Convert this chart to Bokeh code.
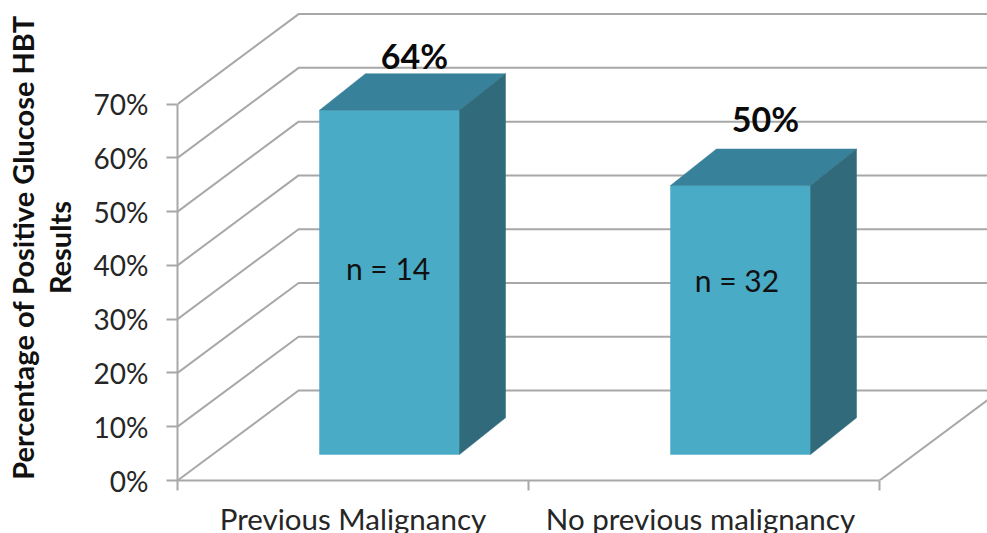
from bokeh.embed import file_html
from bokeh.models import FixedTicker, Label
from bokeh.plotting import figure
from bokeh.resources import INLINE

# Chart values
categories = ["Previous Malignancy", "No previous malignancy"]
positive_pct = [64, 50]
sample_sizes = [14, 32]
pct_ticks = [0, 10, 20, 30, 40, 50, 60, 70]

# Oblique projection of the 3D chart box, in axis units
BOX_DX, BOX_DY = 0.345, 16.74
BAR_DX, BAR_DY = 0.131, 6.8
BAR_WIDTH = 0.399
BAR_SHIFT = 0.104      # bars stand part-way into the box floor
BAR_BASE = 4.85

FRONT, TOP, SIDE = "#4aabc6", "#38819a", "#316b7b"
GRID = "#a8a8a8"
FONT = "Lato"

p = figure(
    width=987, height=533, frame_width=810, frame_height=480,
    output_backend="svg", toolbar_location=None,
    x_range=(0, 810 / 351), y_range=(0, 480 / 5.377),
    min_border_left=177, min_border_right=0, min_border_top=0, min_border_bottom=53,
    outline_line_color=None, background_fill_color="white",
)
p.grid.visible = False

# Back wall gridlines and their oblique returns along the side wall
for t in pct_ticks:
    p.line([0, BOX_DX, 3], [t, t + BOX_DY, t + BOX_DY], line_color=GRID, line_width=2)

# Right edge of the floor
p.line([2, 2 + BOX_DX], [0, BOX_DY], line_color=GRID, line_width=2)

# Bars: front face, top face, side face
for i, v in enumerate(positive_pct):
    x0 = i + 0.5 + BAR_SHIFT - BAR_WIDTH / 2
    x1 = x0 + BAR_WIDTH
    p.patch([x0, x1, x1, x0], [BAR_BASE, BAR_BASE, v + BAR_BASE, v + BAR_BASE],
            fill_color=FRONT, line_color=FRONT, line_width=0.5)
    p.patch([x0, x1, x1 + BAR_DX, x0 + BAR_DX],
            [v + BAR_BASE, v + BAR_BASE, v + BAR_BASE + BAR_DY, v + BAR_BASE + BAR_DY],
            fill_color=TOP, line_color=TOP, line_width=0.5)
    p.patch([x1, x1 + BAR_DX, x1 + BAR_DX, x1],
            [BAR_BASE, BAR_BASE + BAR_DY, v + BAR_BASE + BAR_DY, v + BAR_BASE],
            fill_color=SIDE, line_color=SIDE, line_width=0.5)

# Value labels above the bars and sample sizes on the front faces
value_label_x = [0.675, 1.675]
value_label_y = [79.1, 67.4]
n_label_y = [39.5, 37.2]
n_label_x = [0.6, 1.594]
for i, v in enumerate(positive_pct):
    p.add_layout(Label(x=value_label_x[i], y=value_label_y[i], text=f"{v}%",
                       text_font=FONT, text_font_size="34px", text_font_style="bold",
                       text_color="#0a0a0a", text_align="center", text_baseline="middle"))
    p.add_layout(Label(x=n_label_x[i], y=n_label_y[i], text=f"n = {sample_sizes[i]}",
                       text_font=FONT, text_font_size="30px",
                       text_color="#111111", text_align="center", text_baseline="middle"))

y_axis = p.yaxis[0]
y_axis.bounds = (0, 70)
y_axis.ticker = FixedTicker(ticks=pct_ticks)
y_axis.major_label_overrides = {t: f"{t}%" for t in pct_ticks}
y_axis.major_tick_out = 11
y_axis.major_tick_in = 0
y_axis.major_label_standoff = 18
y_axis.major_label_text_font = FONT
y_axis.major_label_text_font_size = "28px"
y_axis.major_label_text_color = "#262626"
y_axis.axis_line_color = GRID
y_axis.axis_line_width = 2
y_axis.major_tick_line_color = GRID
y_axis.major_tick_line_width = 2

# Two-line rotated axis title
y_axis.axis_label = "Percentage of Positive Glucose HBT  \nResults  "
y_axis.axis_label_standoff = 14
y_axis.axis_label_text_font = FONT
y_axis.axis_label_text_font_size = "29px"
y_axis.axis_label_text_line_height = 1.05
y_axis.axis_label_text_font_style = "bold"
y_axis.axis_label_text_color = "#111111"

x_axis = p.xaxis[0]
x_axis.bounds = (0, 2)
x_axis.ticker = FixedTicker(ticks=[0.5, 1.49], minor_ticks=[0, 1, 2])
x_axis.major_label_overrides = {0.5: categories[0], 1.49: categories[1]}
x_axis.major_tick_out = 0
x_axis.major_tick_in = 0
x_axis.minor_tick_out = 10
x_axis.minor_tick_in = 0
x_axis.major_label_standoff = 10
x_axis.major_label_text_font = FONT
x_axis.major_label_text_font_size = "29.5px"
x_axis.major_label_text_color = "#262626"
x_axis.axis_line_color = GRID
x_axis.axis_line_width = 2
x_axis.minor_tick_line_color = GRID
x_axis.minor_tick_line_width = 2

open("out.html", "w").write(file_html(p, INLINE))
